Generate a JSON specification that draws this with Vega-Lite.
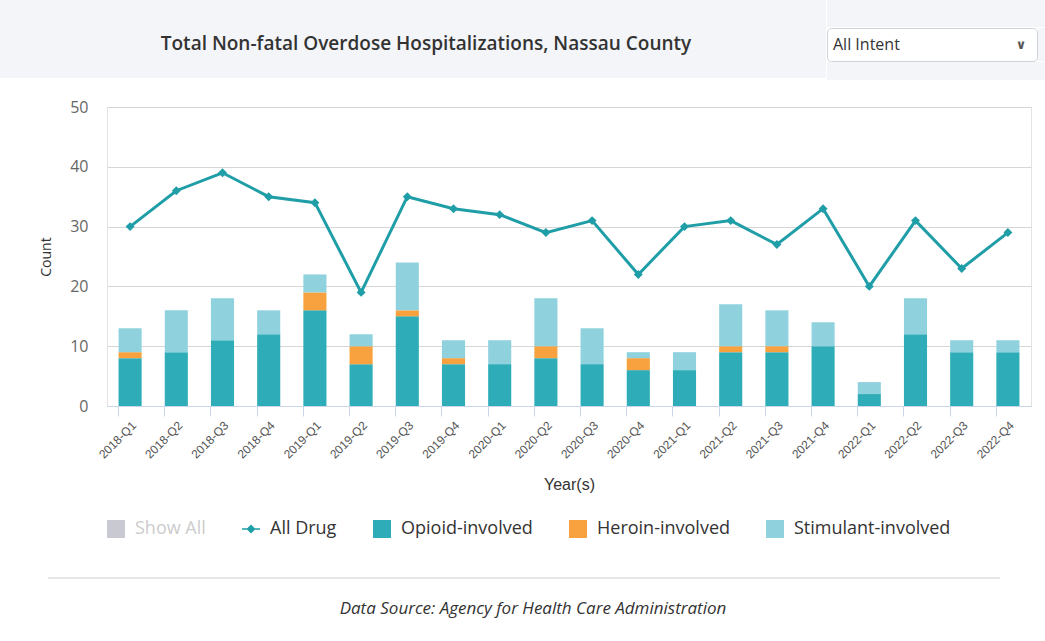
{
  "$schema": "https://vega.github.io/schema/vega-lite/v6.json",
  "padding": 0,
  "background": "white",
  "spacing": 18,
  "resolve": {"scale": {"color": "independent"}, "legend": {"color": "independent"}},
  "config": {
    "view": {"stroke": null},
    "font": "Open Sans",
    "concat": {"spacing": 0}
  },
  "vconcat": [
    {
      "spacing": 0,
      "hconcat": [
        {
          "width": 826, "height": 78,
          "view": {"fill": "#f3f5f8", "stroke": null},
          "data": {"values": [{"label": "Total Non-fatal Overdose Hospitalizations, Nassau County"}]},
          "mark": {"type": "text", "font": "Open Sans", "fontSize": 19, "fontWeight": 600, "color": "#333333", "dx": 13, "dy": 5},
          "encoding": {"text": {"field": "label"}}
        },
        {
          "spacing": 0,
          "vconcat": [
            {
              "width": 219, "height": 27,
              "view": {"fill": "#f3f5f8", "stroke": null},
              "data": {"values": [{"label": ""}]},
              "mark": {"type": "text"},
              "encoding": {"text": {"field": "label"}}
            },
            {
              "spacing": 0,
              "hconcat": [
                {
                  "width": 210, "height": 33,
                  "view": {"fill": "#ffffff", "stroke": "#cfd3d8", "cornerRadius": 4},
                  "data": {"values": [{"label": "All Intent", "arrow": "∨"}]},
                  "layer": [
                    {
                      "mark": {"type": "text", "align": "left", "font": "Open Sans", "fontSize": 16, "color": "#333333", "dx": -99},
                      "encoding": {"text": {"field": "label"}}
                    },
                    {
                      "mark": {"type": "text", "align": "center", "font": "DejaVu Sans", "fontSize": 13, "fontWeight": "bold", "color": "#555555", "dx": 89},
                      "encoding": {"text": {"field": "arrow"}}
                    }
                  ]
                },
                {
                  "width": 9, "height": 33,
                  "view": {"fill": "#f3f5f8", "stroke": null},
                  "data": {"values": [{"label": ""}]},
                  "mark": {"type": "text"},
                  "encoding": {"text": {"field": "label"}}
                }
              ]
            },
            {
              "width": 219, "height": 18,
              "view": {"fill": "#f3f5f8", "stroke": null},
              "data": {"values": [{"label": ""}]},
              "mark": {"type": "text"},
              "encoding": {"text": {"field": "label"}}
            }
          ]
        }
      ]
    },
    {
      "spacing": 0,
      "resolve": {"scale": {"color": "independent"}, "legend": {"color": "independent"}},
      "hconcat": [
        {
          "width": 39, "height": 10,
          "data": {"values": [{"label": ""}]},
          "mark": {"type": "text"},
          "encoding": {"text": {"field": "label"}}
        },
        {
          "width": 924, "height": 299,
          "view": {"stroke": "#e3e3e3"},
          "data": {"values": [
            {"q": "2018-Q1", "All Drug": 30, "Opioid-involved": 8, "Heroin-involved": 1, "Stimulant-involved": 4},
            {"q": "2018-Q2", "All Drug": 36, "Opioid-involved": 9, "Heroin-involved": 0, "Stimulant-involved": 7},
            {"q": "2018-Q3", "All Drug": 39, "Opioid-involved": 11, "Heroin-involved": 0, "Stimulant-involved": 7},
            {"q": "2018-Q4", "All Drug": 35, "Opioid-involved": 12, "Heroin-involved": 0, "Stimulant-involved": 4},
            {"q": "2019-Q1", "All Drug": 34, "Opioid-involved": 16, "Heroin-involved": 3, "Stimulant-involved": 3},
            {"q": "2019-Q2", "All Drug": 19, "Opioid-involved": 7, "Heroin-involved": 3, "Stimulant-involved": 2},
            {"q": "2019-Q3", "All Drug": 35, "Opioid-involved": 15, "Heroin-involved": 1, "Stimulant-involved": 8},
            {"q": "2019-Q4", "All Drug": 33, "Opioid-involved": 7, "Heroin-involved": 1, "Stimulant-involved": 3},
            {"q": "2020-Q1", "All Drug": 32, "Opioid-involved": 7, "Heroin-involved": 0, "Stimulant-involved": 4},
            {"q": "2020-Q2", "All Drug": 29, "Opioid-involved": 8, "Heroin-involved": 2, "Stimulant-involved": 8},
            {"q": "2020-Q3", "All Drug": 31, "Opioid-involved": 7, "Heroin-involved": 0, "Stimulant-involved": 6},
            {"q": "2020-Q4", "All Drug": 22, "Opioid-involved": 6, "Heroin-involved": 2, "Stimulant-involved": 1},
            {"q": "2021-Q1", "All Drug": 30, "Opioid-involved": 6, "Heroin-involved": 0, "Stimulant-involved": 3},
            {"q": "2021-Q2", "All Drug": 31, "Opioid-involved": 9, "Heroin-involved": 1, "Stimulant-involved": 7},
            {"q": "2021-Q3", "All Drug": 27, "Opioid-involved": 9, "Heroin-involved": 1, "Stimulant-involved": 6},
            {"q": "2021-Q4", "All Drug": 33, "Opioid-involved": 10, "Heroin-involved": 0, "Stimulant-involved": 4},
            {"q": "2022-Q1", "All Drug": 20, "Opioid-involved": 2, "Heroin-involved": 0, "Stimulant-involved": 2},
            {"q": "2022-Q2", "All Drug": 31, "Opioid-involved": 12, "Heroin-involved": 0, "Stimulant-involved": 6},
            {"q": "2022-Q3", "All Drug": 23, "Opioid-involved": 9, "Heroin-involved": 0, "Stimulant-involved": 2},
            {"q": "2022-Q4", "All Drug": 29, "Opioid-involved": 9, "Heroin-involved": 0, "Stimulant-involved": 2}
          ]},
          "encoding": {
            "x": {
              "field": "q", "type": "nominal", "sort": null,
              "scale": {"paddingInner": 0.5, "paddingOuter": 0.25},
              "axis": {
                "title": "Year(s)",
                "labelAngle": -45, "labelAlign": "right", "labelBaseline": "middle",
                "labelFont": "Liberation Sans", "labelFontSize": 12, "labelColor": "#555555",
                "labelPadding": 7, "labelOffset": 4, "labelOverlap": false,
                "tickSize": 10, "tickColor": "#ccd6eb", "bandPosition": 0,
                "domainColor": "#ccd6eb",
                "titleFont": "Liberation Sans", "titleFontSize": 16, "titleFontWeight": "normal",
                "titleColor": "#333333", "titlePadding": 16
              }
            }
          },
          "layer": [
            {
              "transform": [
                {"fold": ["Opioid-involved", "Heroin-involved", "Stimulant-involved"], "as": ["type", "value"]},
                {"calculate": "indexof(['Opioid-involved','Heroin-involved','Stimulant-involved'], datum.type)", "as": "ord"}
              ],
              "mark": {"type": "bar"},
              "encoding": {
                "y": {
                  "field": "value", "type": "quantitative", "stack": "zero",
                  "scale": {"domain": [0, 50]},
                  "axis": {
                    "title": "Count", "values": [0, 10, 20, 30, 40, 50],
                    "grid": true, "gridColor": "#d6d6d6", "domain": false, "ticks": false,
                    "labelFont": "Open Sans", "labelFontSize": 16, "labelColor": "#666666", "labelPadding": 19,
                    "titleFont": "Open Sans", "titleFontSize": 14, "titleFontWeight": "normal",
                    "titleColor": "#333333", "titlePadding": 16
                  }
                },
                "color": {
                  "field": "type", "type": "nominal",
                  "scale": {
                    "domain": ["Show All", "All Drug", "Opioid-involved", "Heroin-involved", "Stimulant-involved"],
                    "range": ["#c9c9d1", "#1f9ea8", "#2eadb9", "#f8a23f", "#8fd2de"]
                  },
                  "legend": {
                    "orient": "bottom", "direction": "horizontal", "title": null,
                    "symbolSize": 324, "symbolStrokeWidth": 0,
                    "labelFont": "Open Sans", "labelFontSize": 18, "labelColor": "#333333",
                    "labelOffset": 10, "columnPadding": 36, "offset": 27, "padding": 0,
                    "encode": {
                      "symbols": {"update": {
                        "shape": {"signal": "datum.label === 'All Drug' ? 'M-1,-0.09L1,-0.09L1,0.09L-1,0.09Z M0,-0.5L0.5,0L0,0.5L-0.5,0Z' : 'square'"},
                        "fill": {"scale": "color", "field": "value"},
                        "stroke": {"value": "transparent"},
                        "opacity": {"value": 1},
                        "fillOpacity": {"value": 1}
                      }},
                      "labels": {"update": {
                        "fill": {"signal": "datum.label === 'Show All' ? '#cccccc' : '#333333'"}
                      }}
                    }
                  }
                },
                "order": {"field": "ord"}
              }
            },
            {
              "mark": {"type": "line", "strokeWidth": 3, "point": {"shape": "diamond", "size": 80, "filled": true}},
              "encoding": {
                "y": {"field": "All Drug", "type": "quantitative"},
                "color": {"datum": "All Drug"}
              }
            }
          ]
        }
      ]
    },
    {
      "spacing": 0,
      "hconcat": [
        {
          "width": 48, "height": 10,
          "data": {"values": [{"label": ""}]},
          "mark": {"type": "text"},
          "encoding": {"text": {"field": "label"}}
        },
        {
          "spacing": 0,
          "vconcat": [
            {
              "width": 952, "height": 14,
              "data": {"values": [{"label": ""}]},
              "mark": {"type": "text"},
              "encoding": {"text": {"field": "label"}}
            },
            {
              "width": 952, "height": 2,
              "view": {"fill": "#e6e6e6", "stroke": null},
              "data": {"values": [{"label": ""}]},
              "mark": {"type": "text"},
              "encoding": {"text": {"field": "label"}}
            },
            {
              "width": 952, "height": 52,
              "data": {"values": [{"label": "Data Source: Agency for Health Care Administration"}]},
              "mark": {"type": "text", "font": "Open Sans", "fontSize": 17, "fontStyle": "italic", "color": "#333333", "dx": 9},
              "encoding": {"text": {"field": "label"}}
            }
          ]
        }
      ]
    }
  ]
}
